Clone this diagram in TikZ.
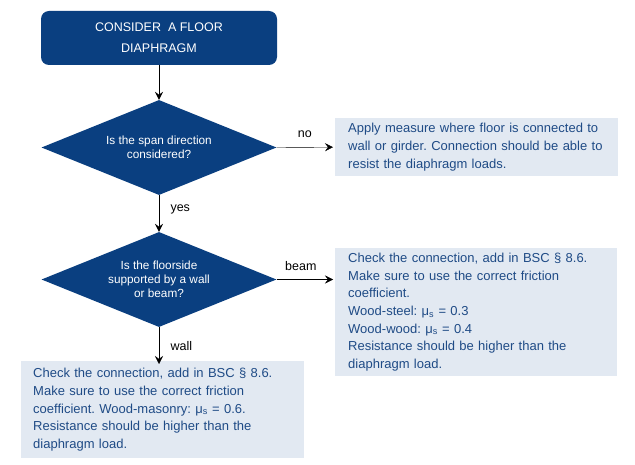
\documentclass[tikz,border=0pt]{standalone}
\usepackage{fontspec}
\setmainfont{Liberation Sans}
\usetikzlibrary{shapes.geometric,arrows.meta}
\definecolor{navy}{HTML}{0A3F80}
\definecolor{paleblue}{HTML}{E2E9F2}
\definecolor{inkblue}{HTML}{1F4B86}
\frenchspacing

\begin{document}
\begin{tikzpicture}[x=1pt,y=-1pt,
    startbox/.style={fill=navy,rounded corners=8pt,text=white,minimum width=236pt,
      minimum height=54pt,inner sep=0pt,align=center,font=\fontsize{12.5}{21}\selectfont},
    decision/.style={diamond,fill=navy,text=white,aspect=2.47,minimum width=235pt,
      minimum height=95pt,inner sep=0pt,align=center,font=\fontsize{11.8}{13.8}\selectfont},
    notebox/.style={fill=paleblue,text=inkblue,anchor=north west,align=left,
      inner ysep=0pt,font=\fontsize{13}{17.6}\selectfont},
    lbl/.style={font=\fontsize{12.5}{15}\selectfont},
    >={Stealth[length=8pt,width=8pt,inset=3pt]}]
    \fill[white] (0,0) rectangle (635,465);
    % boxes
    \node[startbox] (start) at (159,38) {CONSIDER\ \ A FLOOR\\DIAPHRAGM};
    \node[decision] (span) at (159,147.5) {Is the span direction\\considered?};
    \node[decision] (floor) at (159,279.5) {Is the floorside\\supported by a wall\\or beam?};
    \node[notebox,inner xsep=13pt,text width=257pt,minimum height=58pt] (measure) at (335,118)
      {Apply measure where floor is connected to\\wall or girder. Connection should be able to\\resist the diaphragm loads.};
    \node[notebox,inner xsep=13pt,text width=256pt,minimum height=128pt] (beamcheck) at (335,248)
      {Check the connection, add in BSC § 8.6.\\Make sure to use the correct friction\\coefficient.\\Wood-steel: μ\textsubscript{s} = 0.3\\Wood-wood: μ\textsubscript{s} = 0.4\\Resistance should be higher than the\\diaphragm load.};
    \node[notebox,inner xsep=12pt,text width=259pt,minimum height=97pt] (wallcheck) at (21,361)
      {Check the connection, add in BSC § 8.6.\\Make sure to use the correct friction\\coefficient. Wood-masonry: μ\textsubscript{s} = 0.6.\\Resistance should be higher than the\\diaphragm load.};
    % arrows
    \draw[->] (start) -- (span);
    \draw[->] (span.east) -- node[lbl,anchor=south,yshift=6pt] {no} ([xshift=-2pt]measure.west);
    \draw[->] (span) -- node[lbl,anchor=west,pos=0.38,xshift=8pt] {yes} (floor);
    \draw[->] (floor.east) -- node[lbl,anchor=south,yshift=5pt,xshift=-4pt] {beam} ([xshift=-2pt]floor.east -| beamcheck.west);
    \draw[->] (floor.south) -- node[lbl,anchor=west,xshift=8pt] {wall} ([yshift=-3pt]floor.south |- wallcheck.north);
\end{tikzpicture}
\end{document}
